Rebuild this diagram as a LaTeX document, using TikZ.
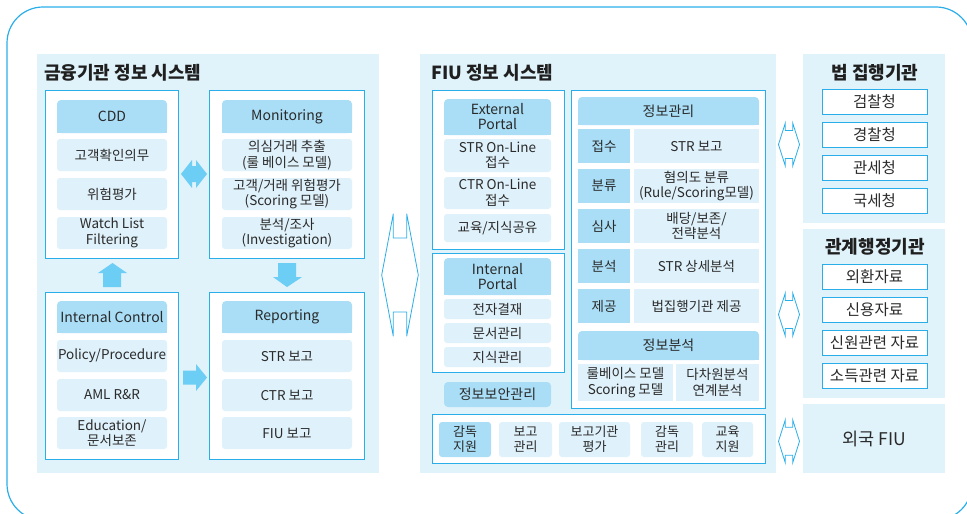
\documentclass[tikz,border=0pt]{standalone}
\usepackage{fontspec}
\setmainfont{Noto Sans CJK KR}
\usetikzlibrary{calc}
\definecolor{panelbg}{HTML}{E0F2FA}
\definecolor{hdrc}{HTML}{A9DEF6}
\definecolor{itemc}{HTML}{DFF1FA}
\definecolor{bordc}{HTML}{2AAEEA}
\definecolor{arrc}{HTML}{6CCDF5}
\definecolor{txtc}{HTML}{2A2A2A}
\newcommand{\fntI}{\fontsize{13.5}{15.5}\selectfont}
\newcommand{\fntS}{\fontsize{13}{15}\selectfont}
\newcommand{\fntH}{\fontsize{14}{15}\selectfont}
\newcommand{\fntR}{\fontsize{15.5}{17}\selectfont}
\newcommand{\fntT}{\fontsize{18}{20}\selectfont}
\newcommand{\bx}[7]{\node[#2, minimum width={(#5-#3)*1pt}, minimum height={(#6-#4)*1pt}] (#1) at ({(#3+#5)/2},{(#4+#6)/2}) {#7};}
\newcommand{\sqb}[1]{\fill[hdrc] (#1.south west) rectangle ([yshift=5pt]#1.south east);}
% hexagonal outline double arrow: cx, cy, half width, inner half width, half height, notch depth
\newcommand{\hexar}[6]{\draw[bordc, line width=0.8pt, line join=miter]
  ({#1-#4},{#2-#5}) -- ({#1-#4},{#2-#5+#6}) -- ({#1+#4},{#2-#5+#6}) -- ({#1+#4},{#2-#5})
  -- ({#1+#3},{#2}) -- ({#1+#4},{#2+#5}) -- ({#1+#4},{#2+#5-#6}) -- ({#1-#4},{#2+#5-#6})
  -- ({#1-#4},{#2+#5}) -- ({#1-#3},{#2}) -- cycle;}
\tikzset{
  base/.style={inner sep=0pt, outer sep=0pt, align=center, text=txtc, font=\fntI},
  item/.style={base, fill=itemc, rounded corners=3pt},
  hdr/.style={base, fill=hdrc, rounded corners=4pt, font=\fntH},
  cell/.style={base, fill=itemc},
  lcell/.style={base, fill=hdrc},
  wbox/.style={draw=bordc, line width=0.9pt, fill=white, inner sep=0pt, outer sep=0pt},
  rbox/.style={wbox, base, font=\fntR},
  panel/.style={fill=panelbg, inner sep=0pt, outer sep=0pt},
  ttl/.style={inner sep=0pt, text=black!88, font=\fntT\bfseries},
  fat/.style={fill=arrc, draw=none}
}
\begin{document}
\begin{tikzpicture}[x=1pt, y=-1pt]
\clip (0,0) rectangle (967,514);
\fill[white] (0,0) rectangle (967,514);
% outer frame
\draw[bordc, line width=1.2pt, rounded corners=36pt] (7,7) rectangle (972,520);

% ===== left panel =====
\bx{lpanel}{panel}{37}{54}{379}{473}{}
\node[ttl, anchor=west] (ltitle) at (44,73) {금융기관 정보 시스템};
\bx{ltb}{wbox}{45}{90}{178}{258}{}
\bx{rtb}{wbox}{209}{90}{364}{258}{}
\bx{lbb}{wbox}{45}{292}{178}{459}{}
\bx{rbb}{wbox}{209}{292}{364}{459}{}

\bx{cdd}{hdr}{57}{100}{167}{133}{CDD}\sqb{cdd}
\bx{c1}{item}{57}{139}{167}{171}{고객확인의무}
\bx{c2}{item}{57}{178}{167}{210}{위험평가}
\bx{c3}{item}{57}{217}{167}{249}{Watch List\\Filtering}

\bx{mon}{hdr}{222}{100}{352}{133}{Monitoring}\sqb{mon}
\bx{m1}{item}{222}{139}{352}{171}{의심거래 추출\\(룰 베이스 모델)}
\bx{m2}{item}{222}{178}{352}{210}{고객/거래 위험평가\\(Scoring 모델)}
\bx{m3}{item}{222}{217}{352}{249}{분석/조사\\(Investigation)}

\bx{ic}{hdr}{57}{301}{167}{333}{Internal Control}\sqb{ic}
\bx{i1}{item}{57}{340}{167}{372}{Policy/Procedure}
\bx{i2}{item}{57}{379}{167}{411}{AML R\&R}
\bx{i3}{item}{57}{417}{167}{449}{Education/\\문서보존}

\bx{rep}{hdr}{222}{301}{352}{333}{Reporting}\sqb{rep}
\bx{r1}{item}{222}{340}{352}{372}{STR 보고}
\bx{r2}{item}{222}{379}{352}{411}{CTR 보고}
\bx{r3}{item}{222}{417}{352}{449}{FIU 보고}

% fat arrows
\fill[fat] (181,174) -- (192,160) -- (192,166) -- (196,166) -- (196,160) -- (207,174)
  -- (196,188) -- (196,182) -- (192,182) -- (192,188) -- cycle;
\fill[fat] (112.5,263) -- (127,273) -- (121,273) -- (121,287) -- (103,287) -- (103,273) -- (98,273) -- cycle;
\fill[fat] (287,287) -- (302,277) -- (296,277) -- (296,263) -- (278,263) -- (278,277) -- (273,277) -- cycle;
\fill[fat] (207,377.5) -- (196,364) -- (196,370.5) -- (183,370.5) -- (183,384.5) -- (196,384.5) -- (196,391) -- cycle;

% ===== middle panel =====
\bx{mpanel}{panel}{420}{54}{776}{473}{}
\node[ttl, anchor=west] (mtitle) at (431,73) {FIU 정보 시스템};
\bx{ext}{wbox}{432}{90}{564}{249}{}
\bx{int}{wbox}{432}{253}{564}{372}{}
\bx{big}{wbox}{571}{90}{765}{408}{}
\bx{bot}{wbox}{432}{414}{765}{463}{}

\bx{exh}{hdr}{444}{99}{551}{135}{External\\Portal}\sqb{exh}
\bx{e1}{item}{444}{139}{551}{172}{STR On-Line\\접수}
\bx{e2}{item}{444}{177}{551}{209}{CTR On-Line\\접수}
\bx{e3}{item}{444}{214}{551}{242}{교육/지식공유}

\bx{inh}{hdr}{444}{258}{551}{295}{Internal\\Portal}\sqb{inh}
\bx{n1}{item}{444}{299}{551}{319}{전자결재}
\bx{n2}{item}{444}{323}{551}{343}{문서관리}
\bx{n3}{item}{444}{347}{551}{367}{지식관리}
\bx{sec}{hdr}{444}{382}{551}{407}{정보보안관리}

\bx{jh}{hdr}{578}{97}{759}{125}{정보관리}\sqb{jh}
\bx{l1}{lcell}{578}{129}{630}{163}{접수}
\bx{v1}{cell}{634}{129}{759}{163}{STR 보고}
\bx{l2}{lcell}{578}{169}{630}{203}{분류}
\bx{v2}{cell}{634}{169}{759}{203}{혐의도 분류\\(Rule/Scoring모델)}
\bx{l3}{lcell}{578}{209}{630}{243}{심사}
\bx{v3}{cell}{634}{209}{759}{243}{배당/보존/\\전략분석}
\bx{l4}{lcell}{578}{249}{630}{283}{분석}
\bx{v4}{cell}{634}{249}{759}{283}{STR 상세분석}
\bx{l5}{lcell}{578}{289}{630}{323}{제공}
\bx{v5}{cell}{634}{289}{759}{323}{법집행기관 제공}
\bx{ah}{hdr}{578}{331}{759}{360}{정보분석}\sqb{ah}
\bx{a1}{cell}{578}{364}{673}{401}{룰베이스 모델\\Scoring 모델}
\bx{a2}{cell}{676}{364}{759}{401}{다차원분석\\연계분석}

\bx{b1}{item, fill=hdrc, font=\fntS}{439}{422}{491}{457}{감독\\지원}
\bx{b2}{item, font=\fntS}{499}{422}{552}{457}{보고\\관리}
\bx{b3}{item, font=\fntS}{559}{422}{630}{457}{보고기관\\평가}
\bx{b4}{item, font=\fntS}{641}{422}{693}{457}{감독\\관리}
\bx{b5}{item, font=\fntS}{702}{422}{753}{457}{교육\\지원}

% ===== right panels =====
\bx{law}{panel}{803}{54}{945}{223}{}
\node[ttl] (lawt) at (875,73) {법 집행기관};
\bx{k1}{rbox}{822}{89}{927}{114}{검찰청}
\bx{k2}{rbox}{822}{122}{927}{147}{경찰청}
\bx{k3}{rbox}{822}{155}{927}{180}{관세청}
\bx{k4}{rbox}{822}{188}{927}{213}{국세청}

\bx{rel}{panel}{803}{229}{945}{398}{}
\node[ttl] (relt) at (875,247) {관계행정기관};
\bx{g1}{rbox}{822}{264}{927}{289}{외환자료}
\bx{g2}{rbox}{822}{297}{927}{322}{신용자료}
\bx{g3}{rbox}{822}{330}{927}{355}{신원관련 자료}
\bx{g4}{rbox}{822}{363}{927}{388}{소득관련 자료}

\bx{frn}{panel, base, font=\fontsize{17.5}{19}\selectfont}{803}{404}{945}{473}{외국 FIU}

% outline double arrows
\hexar{400}{275}{18.3}{6.7}{61.3}{24.3}
\hexar{789}{144.5}{10.5}{3.7}{21.5}{7.5}
\hexar{789}{314.5}{10.5}{3.7}{21.5}{7.5}
\hexar{789}{441.3}{10.5}{3.7}{21.5}{7.5}
\end{tikzpicture}
\end{document}
